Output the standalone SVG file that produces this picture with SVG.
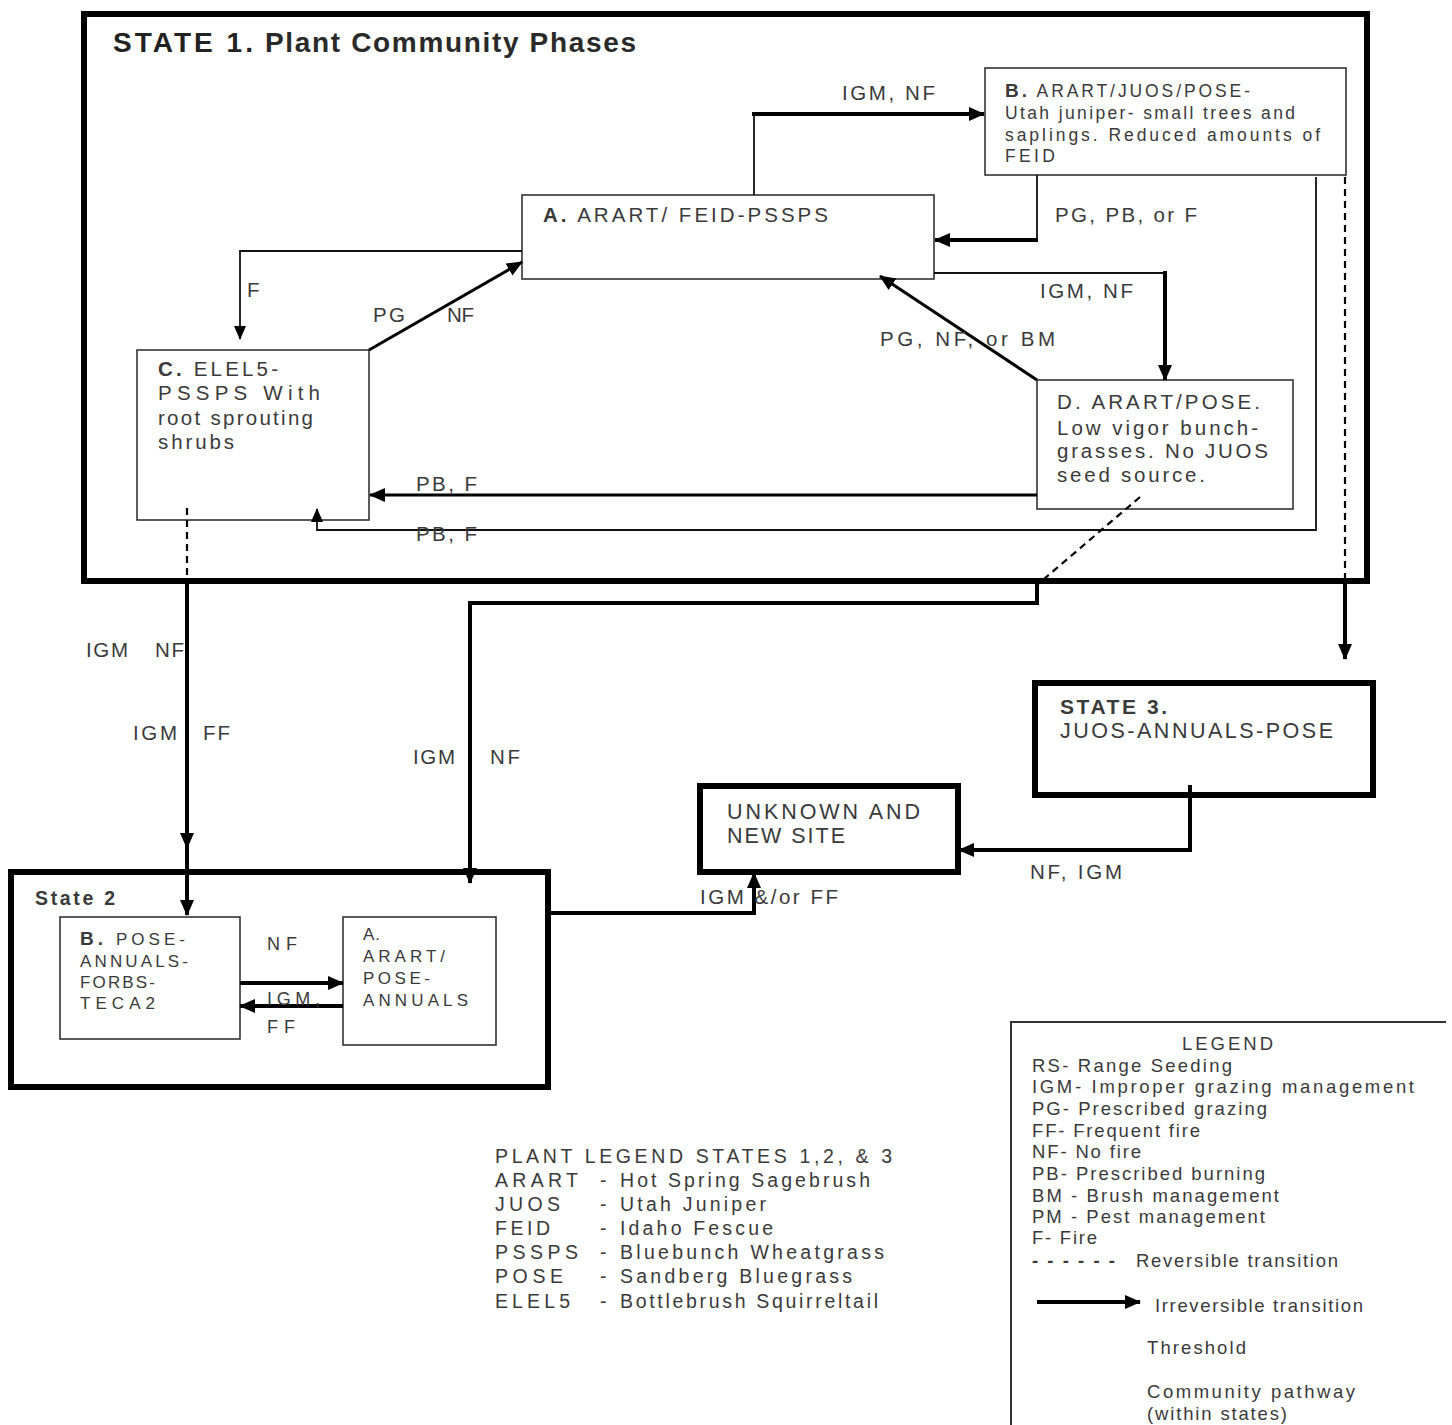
<svg xmlns="http://www.w3.org/2000/svg" width="1452" height="1425" viewBox="0 0 1452 1425">
<style>
text{font-family:"Liberation Sans",Arial,sans-serif;fill:#3a3a3a;font-size:20.5px}
.b{font-weight:bold}
.ti{font-size:28px;font-weight:bold;fill:#222}
.sm{font-size:17.5px}
.s2{font-size:17px}
.lg{font-size:18.5px}
.pl{font-size:19.5px}
.box{fill:#fff;stroke:#333;stroke-width:1.6}
.st{fill:none;stroke:#000;stroke-width:6}
.thin{fill:none;stroke:#111;stroke-width:1.8}
.thk{fill:none;stroke:#000;stroke-width:4}
.med{fill:none;stroke:#000;stroke-width:3}
.dash{fill:none;stroke:#000;stroke-width:2.2;stroke-dasharray:7,5}
</style>
<defs>
<marker id="ah" markerUnits="userSpaceOnUse" markerWidth="16" markerHeight="16" viewBox="0 0 16 16" refX="15" refY="8" orient="auto"><path d="M0,1 L16,8 L0,15 Z" fill="#000"/></marker>
<marker id="ahs" markerUnits="userSpaceOnUse" markerWidth="14" markerHeight="14" viewBox="0 0 14 14" refX="13" refY="7" orient="auto"><path d="M0,1 L14,7 L0,13 Z" fill="#000"/></marker>
</defs>
<rect width="1452" height="1425" fill="#fff"/>

<g id="state1">
<rect class="st" x="84" y="14" width="1283" height="567"/>
<text class="ti" x="113" y="52" textLength="140" lengthAdjust="spacing">STATE 1.</text>
<text class="ti" x="265" y="52" textLength="371" lengthAdjust="spacing" style="fill:#2a2a2a">Plant Community Phases</text>
</g>

<g id="nodeA">
<rect class="box" x="522" y="195" width="412" height="84"/>
<text x="543" y="222" textLength="285" lengthAdjust="spacing"><tspan class="b">A.</tspan> ARART/ FEID-PSSPS</text>
</g>

<g id="nodeB">
<rect class="box" x="985" y="68" width="361" height="107"/>
<text class="sm" x="1005" y="97" textLength="245" lengthAdjust="spacing"><tspan class="b" style="font-size:19px">B.</tspan> ARART/JUOS/POSE-</text>
<text class="sm" x="1005" y="119" textLength="290" lengthAdjust="spacing">Utah juniper- small trees and</text>
<text class="sm" x="1005" y="141" textLength="315" lengthAdjust="spacing">saplings.  Reduced amounts of</text>
<text class="sm" x="1005" y="162" textLength="50" lengthAdjust="spacing">FEID</text>
</g>

<g id="nodeC">
<rect class="box" x="137" y="350" width="232" height="170"/>
<text x="158" y="376" textLength="120" lengthAdjust="spacing"><tspan class="b">C.</tspan> ELEL5-</text>
<text x="158" y="400" textLength="162" lengthAdjust="spacing">PSSPS   With</text>
<text x="158" y="425" textLength="155" lengthAdjust="spacing">root sprouting</text>
<text x="158" y="449" textLength="76" lengthAdjust="spacing">shrubs</text>
</g>

<g id="nodeD">
<rect class="box" x="1037" y="380" width="256" height="129"/>
<text x="1057" y="409" textLength="203" lengthAdjust="spacing">D. ARART/POSE.</text>
<text x="1057" y="435" textLength="201" lengthAdjust="spacing">Low vigor bunch-</text>
<text x="1057" y="458" textLength="211" lengthAdjust="spacing">grasses. No JUOS</text>
<text x="1057" y="482" textLength="148" lengthAdjust="spacing">seed source.</text>
</g>

<g id="state3">
<rect class="st" x="1035" y="683" width="338" height="112"/>
<text class="b" x="1060" y="714" textLength="107" lengthAdjust="spacing" style="font-size:21px">STATE 3.</text>
<text x="1060" y="738" textLength="273" lengthAdjust="spacing" style="font-size:21.5px">JUOS-ANNUALS-POSE</text>
</g>

<g id="unknown">
<rect class="st" x="700" y="786" width="258" height="86"/>
<text x="727" y="819" textLength="193" lengthAdjust="spacing" style="font-size:21.5px">UNKNOWN AND</text>
<text x="727" y="843" textLength="118" lengthAdjust="spacing" style="font-size:21.5px">NEW SITE</text>
</g>

<g id="state2">
<rect class="st" x="11" y="872" width="537" height="215"/>
<text class="b" x="35" y="905" textLength="80" lengthAdjust="spacing" style="font-size:19.5px">State 2</text>
</g>

<g id="state2B">
<rect class="box" x="60" y="917" width="180" height="122"/>
<text class="s2" x="80" y="945" textLength="105" lengthAdjust="spacing"><tspan class="b" style="font-size:19px">B.</tspan> POSE-</text>
<text class="s2" x="80" y="967" textLength="108" lengthAdjust="spacing">ANNUALS-</text>
<text class="s2" x="80" y="988" textLength="75" lengthAdjust="spacing">FORBS-</text>
<text class="s2" x="80" y="1009" textLength="75" lengthAdjust="spacing">TECA2</text>
</g>

<g id="state2A">
<rect class="box" x="343" y="917" width="153" height="128"/>
<text class="s2" x="363" y="940" textLength="17" lengthAdjust="spacing">A.</text>
<text class="s2" x="363" y="962" textLength="82" lengthAdjust="spacing">ARART/</text>
<text class="s2" x="363" y="984" textLength="67" lengthAdjust="spacing">POSE-</text>
<text class="s2" x="363" y="1006" textLength="105" lengthAdjust="spacing">ANNUALS</text>
</g>

<g id="connectors">
<path class="thin" d="M754,195 V114"/>
<path class="thk" d="M752,114 H984" marker-end="url(#ah)"/>
<path class="thin" d="M1037,175 V240"/>
<path class="thk" d="M1038,240 H935" marker-end="url(#ah)"/>
<path class="thin" d="M934,273 H1165"/>
<path class="thk" d="M1165,271 V380" marker-end="url(#ah)"/>
<path class="med" d="M1037,380 L880,276" marker-end="url(#ah)"/>
<path class="med" d="M369,350 L522,262" marker-end="url(#ah)"/>
<path class="thin" d="M522,251 H240"/>
<path class="thin" d="M240,250 V339" marker-end="url(#ahs)"/>
<path class="med" d="M1037,495 H370" marker-end="url(#ah)"/>
<path class="thin" d="M1316,177 V530 H317 V509" marker-end="url(#ahs)"/>
<path class="dash" d="M1345,177 V582"/>
<path class="thk" d="M1345,580 V659" marker-end="url(#ah)"/>
<path class="dash" d="M187,508 V582"/>
<path class="thk" d="M187,580 V848" marker-end="url(#ah)"/>
<path class="thk" d="M187,846 V915" marker-end="url(#ah)"/>
<path class="dash" d="M1140,497 L1037,585"/>
<path class="thk" d="M1037,583 V603 H470 V883" marker-end="url(#ah)"/>
<path class="thk" d="M1190,785 V850 H959" marker-end="url(#ah)"/>
<path class="thk" d="M548,913 H754 V873" marker-end="url(#ah)"/>
<path class="thk" d="M240,983 H343" marker-end="url(#ah)"/>
<path class="thk" d="M343,1006 H240" marker-end="url(#ah)"/>
</g>

<g id="labels">
<text x="842" y="100" textLength="93" lengthAdjust="spacing">IGM, NF</text>
<text x="1055" y="222" textLength="142" lengthAdjust="spacing">PG, PB, or F</text>
<text x="1040" y="298" textLength="93" lengthAdjust="spacing">IGM, NF</text>
<text x="880" y="346" textLength="175" lengthAdjust="spacing">PG, NF,   or BM</text>
<text x="247" y="297">F</text>
<text x="373" y="322" textLength="32" lengthAdjust="spacing">PG</text>
<text x="447" y="322" textLength="27" lengthAdjust="spacing">NF</text>
<text x="416" y="491" textLength="61" lengthAdjust="spacing">PB, F</text>
<text x="416" y="541" textLength="61" lengthAdjust="spacing">PB, F</text>
<text x="86" y="657" textLength="42" lengthAdjust="spacing">IGM</text>
<text x="155" y="657" textLength="29" lengthAdjust="spacing">NF</text>
<text x="133" y="740" textLength="44" lengthAdjust="spacing">IGM</text>
<text x="203" y="740" textLength="27" lengthAdjust="spacing">FF</text>
<text x="413" y="764" textLength="42" lengthAdjust="spacing">IGM</text>
<text x="490" y="764" textLength="30" lengthAdjust="spacing">NF</text>
<text x="1030" y="879" textLength="92" lengthAdjust="spacing">NF, IGM</text>
<text x="700" y="904" textLength="138" lengthAdjust="spacing">IGM &amp;/or FF</text>
<text class="s2" x="267" y="950" textLength="30" lengthAdjust="spacing" style="font-size:18px">NF</text>
<text class="s2" x="267" y="1005" textLength="53" lengthAdjust="spacing" style="font-size:18px">IGM,</text>
<text class="s2" x="267" y="1033" textLength="28" lengthAdjust="spacing" style="font-size:18px">FF</text>
</g>

<g id="plantLegend">
<text class="pl" x="495" y="1163" textLength="397" lengthAdjust="spacing">PLANT LEGEND STATES 1,2, &amp; 3</text>
<text class="pl" x="495" y="1187" textLength="83" lengthAdjust="spacing">ARART</text>
<text class="pl" x="495" y="1211" textLength="65" lengthAdjust="spacing">JUOS</text>
<text class="pl" x="495" y="1235" textLength="55" lengthAdjust="spacing">FEID</text>
<text class="pl" x="495" y="1259" textLength="83" lengthAdjust="spacing">PSSPS</text>
<text class="pl" x="495" y="1283" textLength="68" lengthAdjust="spacing">POSE</text>
<text class="pl" x="495" y="1308" textLength="75" lengthAdjust="spacing">ELEL5</text>
<text class="pl" x="600" y="1187">-</text>
<text class="pl" x="600" y="1211">-</text>
<text class="pl" x="600" y="1235">-</text>
<text class="pl" x="600" y="1259">-</text>
<text class="pl" x="600" y="1283">-</text>
<text class="pl" x="600" y="1308">-</text>
<text class="pl" x="620" y="1187" textLength="250" lengthAdjust="spacing">Hot Spring Sagebrush</text>
<text class="pl" x="620" y="1211" textLength="146" lengthAdjust="spacing">Utah Juniper</text>
<text class="pl" x="620" y="1235" textLength="153" lengthAdjust="spacing">Idaho Fescue</text>
<text class="pl" x="620" y="1259" textLength="264" lengthAdjust="spacing">Bluebunch Wheatgrass</text>
<text class="pl" x="620" y="1283" textLength="232" lengthAdjust="spacing">Sandberg Bluegrass</text>
<text class="pl" x="620" y="1308" textLength="258" lengthAdjust="spacing">Bottlebrush Squirreltail</text>
</g>

<g id="legend">
<path d="M1011,1425 V1022 H1446" fill="none" stroke="#333" stroke-width="2"/>
<text class="lg" x="1182" y="1050" textLength="91" lengthAdjust="spacing">LEGEND</text>
<text class="lg" x="1032" y="1072" textLength="200" lengthAdjust="spacing">RS- Range Seeding</text>
<text class="lg" x="1032" y="1093" textLength="382" lengthAdjust="spacing">IGM- Improper grazing  management</text>
<text class="lg" x="1032" y="1115" textLength="235" lengthAdjust="spacing">PG- Prescribed grazing</text>
<text class="lg" x="1032" y="1137" textLength="168" lengthAdjust="spacing">FF- Frequent fire</text>
<text class="lg" x="1032" y="1158" textLength="109" lengthAdjust="spacing">NF- No fire</text>
<text class="lg" x="1032" y="1180" textLength="233" lengthAdjust="spacing">PB- Prescribed burning</text>
<text class="lg" x="1032" y="1202" textLength="247" lengthAdjust="spacing">BM - Brush management</text>
<text class="lg" x="1032" y="1223" textLength="233" lengthAdjust="spacing">PM - Pest management</text>
<text class="lg" x="1032" y="1244" textLength="65" lengthAdjust="spacing">F- Fire</text>
<text class="lg b" x="1032" y="1267" textLength="83" lengthAdjust="spacing">------</text>
<text class="lg" x="1136" y="1267" textLength="202" lengthAdjust="spacing">Reversible transition</text>
<path class="thk" d="M1037,1302 H1140" marker-end="url(#ah)"/>
<text class="lg" x="1155" y="1312" textLength="208" lengthAdjust="spacing">Irreversible transition</text>
<text class="lg" x="1147" y="1354" textLength="99" lengthAdjust="spacing">Threshold</text>
<text class="lg" x="1147" y="1398" textLength="208" lengthAdjust="spacing">Community pathway</text>
<text class="lg" x="1147" y="1420" textLength="140" lengthAdjust="spacing">(within states)</text>
</g>
</svg>
